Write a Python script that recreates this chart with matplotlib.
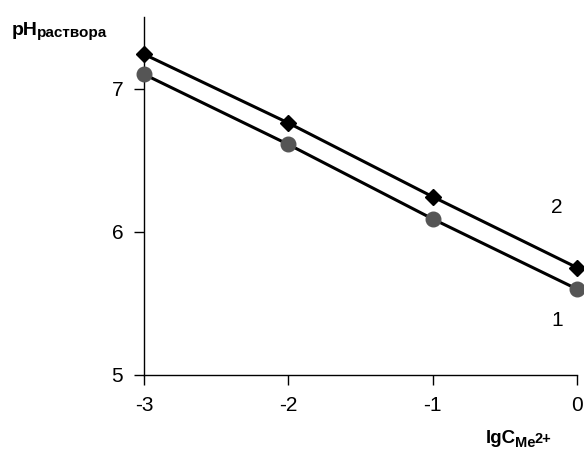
import matplotlib
matplotlib.use("Agg")
import matplotlib.pyplot as plt

# ---------------------------
# Data
# ---------------------------
lg_c = [-3, -2, -1, 0]
ph_series_1 = [7.10, 6.61, 6.09, 5.60]
ph_series_2 = [7.24, 6.76, 6.245, 5.75]

x_ticks = [-3, -2, -1, 0]
y_ticks = [5, 6, 7]

plt.rcParams["font.family"] = ["Liberation Sans", "DejaVu Sans"]

W, H = 584, 449
fig = plt.figure(figsize=(W / 100, H / 100), dpi=100)
ax = fig.add_axes([144 / W, 1 - 375 / H, 433 / W, 358 / H])

ax.plot(lg_c, ph_series_1, color="black", lw=2.2, marker="o", ms=10.5,
        mfc="#555555", mec="#555555", zorder=3, clip_on=False)
ax.plot(lg_c, ph_series_2, color="black", lw=2.2, marker="D", ms=8.5,
        mfc="black", mec="black", zorder=3, clip_on=False)

ax.set_xlim(-3, 0)
ax.set_ylim(5, 7.5)
ax.set_xticks(x_ticks)
ax.set_yticks(y_ticks)
ax.set_xticklabels([str(v) for v in x_ticks])
ax.set_yticklabels([str(v) for v in y_ticks])
ax.tick_params(direction="out", length=7, width=1, labelsize=15, pad=8)

for side in ("top", "right"):
    ax.spines[side].set_visible(False)
for side in ("left", "bottom"):
    ax.spines[side].set_linewidth(1)
ax.patch.set_alpha(0)

# curve numbers
ax.text(-0.14, 6.17, "2", fontsize=15, ha="center", va="center")
ax.text(-0.14, 5.38, "1", fontsize=15, ha="center", va="center")


# ---------------------------
# Captions built from pieces (main text + sub/superscripts)
# ---------------------------
def caption(pieces, x_px, baseline_px):
    """Place text pieces one after another, each with its own size and
    baseline offset (in pixels, positive = down)."""
    renderer = fig.canvas.get_renderer()
    x = x_px
    for s, size, dy in pieces:
        t = fig.text(x / W, 1 - (baseline_px + dy) / H, s, fontsize=size,
                     fontweight="bold", ha="left", va="baseline")
        bb = t.get_window_extent(renderer=renderer)
        x += bb.width - 1


caption([("pH", 14, 0), ("раствора", 11, 2)], 12, 35)
caption([("lgC", 13.5, 0), ("Me", 10.5, 4), ("2+", 10.5, 0)], 486, 443)

fig.savefig("out.png", dpi=100)
